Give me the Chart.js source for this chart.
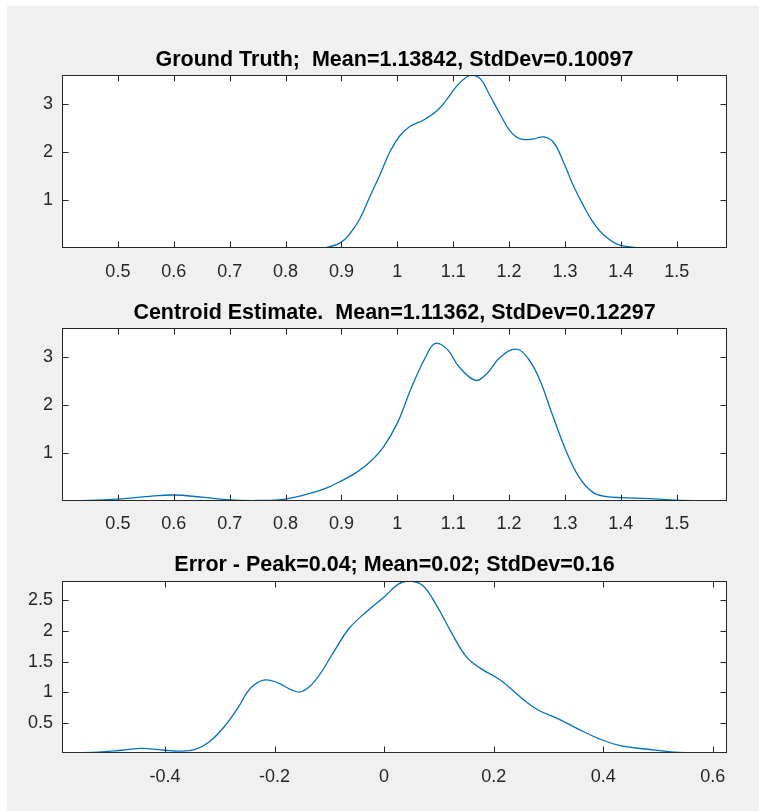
<!DOCTYPE html>
<html>
<head>
<meta charset="utf-8">
<script src="https://cdn.jsdelivr.net/npm/chart.js@4/dist/chart.umd.min.js"></script>
<style>
  html, body { margin: 0; padding: 0; background: #ffffff; }
  #fig { position: absolute; left: 7px; top: 6px; width: 752px; height: 805px; background: #f0f0f0; }
  canvas { position: absolute; left: 0; }
</style>
</head>
<body>
<div id="fig"></div>
<canvas id="c1" width="759" height="290" style="top:0px;width:759px;height:290px"></canvas>
<canvas id="c2" width="759" height="253" style="top:290px;width:759px;height:253px"></canvas>
<canvas id="c3" width="759" height="268" style="top:543px;width:759px;height:268px"></canvas>
<script>
// ---------- data ----------
const title1 = 'Ground Truth;  Mean=1.13842, StdDev=0.10097';
const title2 = 'Centroid Estimate.  Mean=1.11362, StdDev=0.12297';
const title3 = 'Error - Peak=0.04; Mean=0.02; StdDev=0.16';

const gtX = [0.850, 0.874, 0.898, 0.915, 0.933, 0.951, 0.969, 0.987, 1.005, 1.023, 1.047, 1.071, 1.089, 1.107, 1.125, 1.134, 1.149, 1.166, 1.184, 1.202, 1.220, 1.244, 1.262, 1.280, 1.298, 1.316, 1.334, 1.352, 1.370, 1.394, 1.424, 1.453, 1.477];
const gtY = [0.015, 0.03, 0.12, 0.31, 0.62, 1.08, 1.53, 2.01, 2.34, 2.53, 2.66, 2.85, 3.09, 3.37, 3.56, 3.59, 3.51, 3.16, 2.78, 2.43, 2.27, 2.27, 2.31, 2.19, 1.77, 1.28, 0.87, 0.52, 0.28, 0.09, 0.03, 0.017, 0.015];

const ceX = [0.40, 0.45, 0.50, 0.55, 0.60, 0.65, 0.70, 0.75, 0.80, 0.85, 0.875, 0.90, 0.925, 0.95, 0.975, 1.00, 1.025, 1.05, 1.068, 1.09, 1.11, 1.14, 1.16, 1.185, 1.213, 1.235, 1.255, 1.275, 1.30, 1.325, 1.35, 1.375, 1.40, 1.45, 1.50, 1.55, 1.59];
const ceY = [0.008, 0.015, 0.04, 0.09, 0.125, 0.08, 0.025, 0.01, 0.04, 0.18, 0.28, 0.42, 0.58, 0.80, 1.12, 1.62, 2.35, 2.98, 3.28, 3.15, 2.80, 2.51, 2.65, 3.00, 3.16, 2.95, 2.52, 1.88, 1.10, 0.50, 0.18, 0.09, 0.07, 0.05, 0.02, 0.008, 0.005];

const erX = [-0.588, -0.523, -0.479, -0.443, -0.400, -0.373, -0.346, -0.320, -0.293, -0.266, -0.245, -0.220, -0.195, -0.169, -0.151, -0.125, -0.089, -0.063, -0.027, 0.000, 0.026, 0.046, 0.070, 0.096, 0.123, 0.150, 0.176, 0.212, 0.256, 0.282, 0.318, 0.353, 0.397, 0.433, 0.477, 0.539, 0.626];
const erY = [0.016, 0.03, 0.06, 0.09, 0.06, 0.045, 0.07, 0.19, 0.43, 0.76, 1.06, 1.20, 1.16, 1.04, 1.01, 1.20, 1.70, 2.05, 2.35, 2.55, 2.76, 2.81, 2.74, 2.41, 1.97, 1.58, 1.39, 1.20, 0.87, 0.71, 0.57, 0.41, 0.23, 0.13, 0.08, 0.025, 0.016];

const xTicks12 = [0.5, 0.6, 0.7, 0.8, 0.9, 1.0, 1.1, 1.2, 1.3, 1.4, 1.5];
const yTicks12 = [1, 2, 3];
const xTicks3 = [-0.4, -0.2, 0, 0.2, 0.4, 0.6];
const yTicks3 = [0.5, 1, 1.5, 2, 2.5];

// ---------- styling / helpers ----------
const FONT = "'Liberation Sans', Arial, Helvetica, sans-serif";
const AXIS_COLOR = '#262626';
const LINE_COLOR = '#0072BD';
const fmt = v => String(Math.round(v * 100) / 100);

const matlabAxes = {
  id: 'matlabAxes',
  beforeDraw(chart) {
    const a = chart.chartArea, ctx = chart.ctx;
    ctx.save();
    ctx.fillStyle = '#ffffff';
    ctx.fillRect(a.left, a.top, a.right - a.left, a.bottom - a.top);
    ctx.restore();
  },
  afterDraw(chart) {
    const a = chart.chartArea, ctx = chart.ctx;
    const L = a.left + 0.5, R = a.right - 0.5, T = a.top + 0.5, B = a.bottom - 0.5;
    const tl = 6;
    ctx.save();
    ctx.strokeStyle = AXIS_COLOR;
    ctx.lineWidth = 1;
    ctx.beginPath();
    chart.scales.x.ticks.forEach(t => {
      const px = Math.round(chart.scales.x.getPixelForValue(t.value)) + 0.5;
      ctx.moveTo(px, B); ctx.lineTo(px, B - tl);
      ctx.moveTo(px, T); ctx.lineTo(px, T + tl);
    });
    chart.scales.y.ticks.forEach(t => {
      const py = Math.round(chart.scales.y.getPixelForValue(t.value)) + 0.5;
      ctx.moveTo(L, py); ctx.lineTo(L + tl, py);
      ctx.moveTo(R, py); ctx.lineTo(R - tl, py);
    });
    ctx.stroke();
    ctx.strokeRect(L, T, R - L, B - T);
    ctx.restore();
  }
};

function makeChart(id, cfg) {
  const pts = cfg.xs.map((x, i) => ({ x: x, y: cfg.ys[i] }));
  return new Chart(document.getElementById(id), {
    type: 'line',
    data: { datasets: [{
      data: pts, borderColor: LINE_COLOR, borderWidth: 1.3, pointRadius: 0,
      fill: false, tension: 0.4
    }]},
    options: {
      responsive: false, animation: false, events: [],
      layout: { padding: { left: 0, right: 759 - 727, top: 0, bottom: 0 } },
      plugins: {
        legend: { display: false },
        tooltip: { enabled: false },
        title: {
          display: true, text: cfg.title, fullSize: false, color: '#000000',
          font: { family: FONT, size: 21.5, weight: 'bold', lineHeight: 1.2 },
          padding: { top: cfg.tpTop, bottom: cfg.tpBottom }
        }
      },
      scales: {
        x: {
          type: 'linear', min: cfg.xmin, max: cfg.xmax,
          afterBuildTicks: s => { s.ticks = cfg.xTicks.map(v => ({ value: v })); },
          afterFit: s => { s.height = cfg.xH; },
          grid: { display: false, drawTicks: false },
          border: { display: false },
          ticks: { autoSkip: false, maxRotation: 0, minRotation: 0, padding: cfg.xPad,
                   color: AXIS_COLOR, font: { family: FONT, size: 18 }, callback: v => fmt(v) }
        },
        y: {
          type: 'linear', min: cfg.ymin, max: cfg.ymax,
          afterBuildTicks: s => { s.ticks = cfg.yTicks.map(v => ({ value: v })); },
          afterFit: s => { s.width = 62; },
          grid: { display: false, drawTicks: false },
          border: { display: false },
          ticks: { autoSkip: false, padding: 9,
                   color: AXIS_COLOR, font: { family: FONT, size: 18 }, callback: v => fmt(v) }
        }
      }
    },
    plugins: [matlabAxes]
  });
}

makeChart('c1', { xs: gtX, ys: gtY, title: title1, xmin: 0.4, xmax: 1.59, ymin: 0.015, ymax: 3.59,
  xTicks: xTicks12, yTicks: yTicks12, tpTop: 47.6, tpBottom: 1.6, xH: 42, xPad: 13.5 });
makeChart('c2', { xs: ceX, ys: ceY, title: title2, xmin: 0.4, xmax: 1.59, ymin: 0, ymax: 3.6,
  xTicks: xTicks12, yTicks: yTicks12, tpTop: 10.1, tpBottom: 2.1, xH: 42, xPad: 12 });
makeChart('c3', { xs: erX, ys: erY, title: title3, xmin: -0.588, xmax: 0.626, ymin: 0.015, ymax: 2.81,
  xTicks: xTicks3, yTicks: yTicks3, tpTop: 9.6, tpBottom: 2.6, xH: 58, xPad: 13.5 });
</script>
</body>
</html>
